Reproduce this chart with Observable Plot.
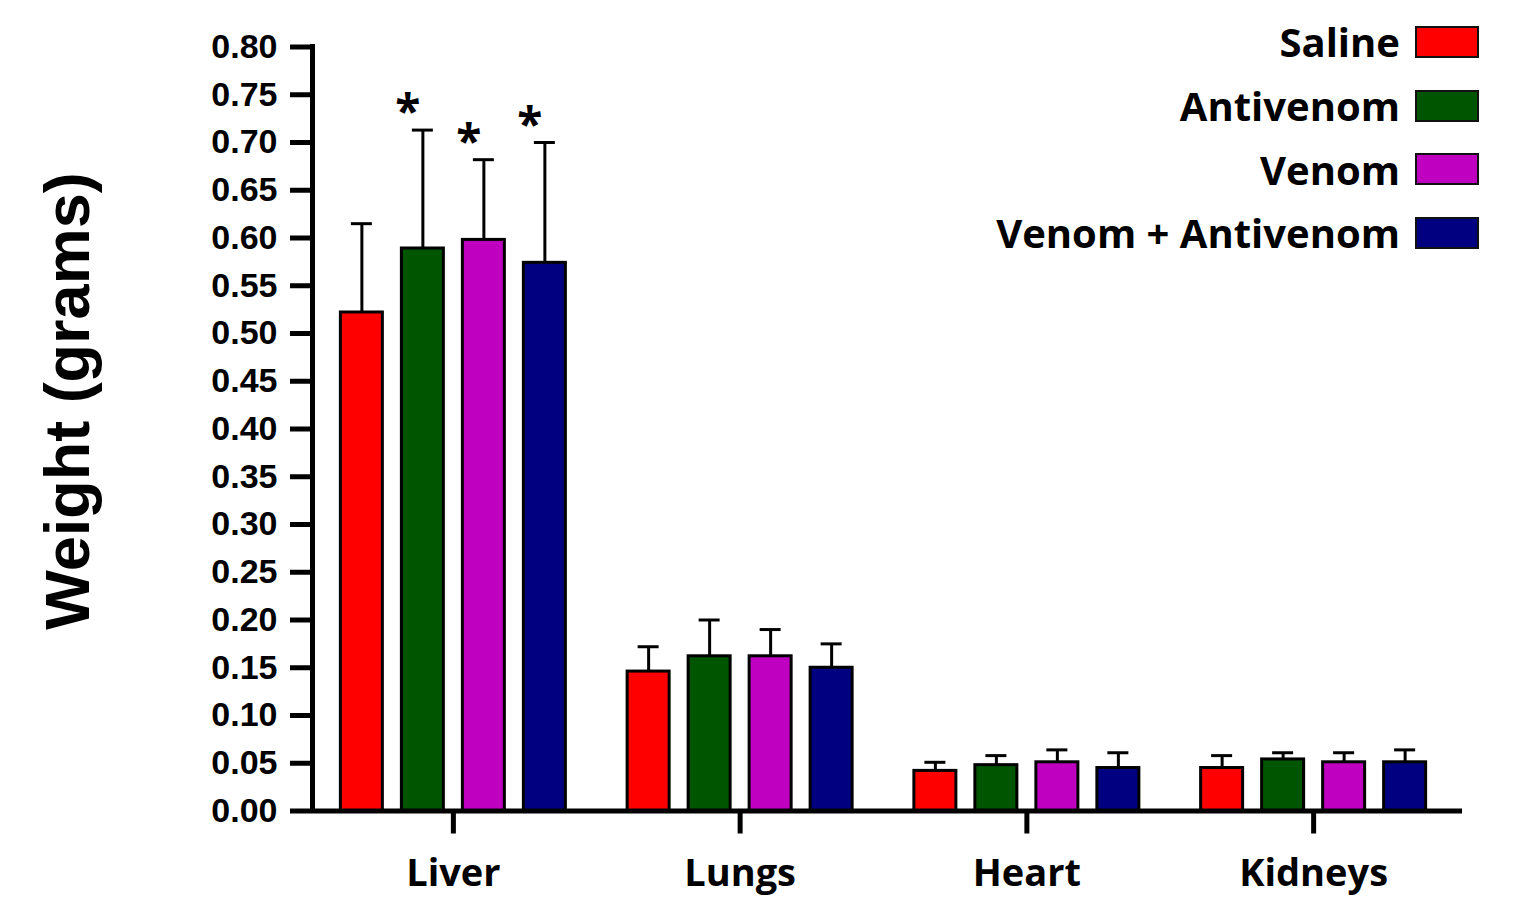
<!DOCTYPE html>
<html>
<head>
<meta charset="utf-8">
<script src="https://cdn.jsdelivr.net/npm/d3@7"></script>
<script src="https://cdn.jsdelivr.net/npm/@observablehq/plot@0.6"></script>
<style>
  body { margin: 0; background: #fff; }
  #wrap { position: relative; width: 1519px; height: 897px; overflow: hidden; background: #fff; }
  #legend { position: absolute; top: 10px; right: 40px; font-family: "Open Sans", sans-serif; font-weight: 700; font-size: 40px; color: #000; }
  .row { display: flex; align-items: center; justify-content: flex-end; height: 63.7px; }
  .sw { width: 60px; height: 28px; border: 2px solid #111; margin-left: 15px; box-sizing: content-box; }
</style>
</head>
<body>
<div id="wrap"><div id="legend"></div></div>
<script>
// ---- data ----
const organs = ["Liver", "Lungs", "Heart", "Kidneys"];
const groups = ["Saline", "Antivenom", "Venom", "Venom + Antivenom"];
const colors = ["#ff0000", "#005500", "#c000c0", "#000080"];

const salineMean    = [0.522, 0.146, 0.042, 0.045];
const salineErr     = [0.093, 0.026, 0.009, 0.013];
const antivenomMean = [0.589, 0.162, 0.048, 0.054];
const antivenomErr  = [0.124, 0.038, 0.010, 0.007];
const venomMean     = [0.598, 0.162, 0.051, 0.051];
const venomErr      = [0.084, 0.028, 0.013, 0.010];
const vaMean        = [0.574, 0.150, 0.045, 0.051];
const vaErr         = [0.126, 0.025, 0.016, 0.013];

// significance markers (organ, group)
const sigOrgan = ["Liver", "Liver", "Liver"];
const sigGroup = ["Antivenom", "Venom", "Venom + Antivenom"];

const yTicks = [0, 0.05, 0.10, 0.15, 0.20, 0.25, 0.30, 0.35, 0.40, 0.45, 0.50, 0.55, 0.60, 0.65, 0.70, 0.75, 0.80];
const yTitle = "Weight (grams)";

const means = [salineMean, antivenomMean, venomMean, vaMean];
const errs = [salineErr, antivenomErr, venomErr, vaErr];

const data = [];
groups.forEach((g, j) => organs.forEach((o, i) => {
  data.push({organ: o, group: g, mean: means[j][i], err: errs[j][i],
             sig: sigOrgan.some((so, k) => so === o && sigGroup[k] === g)});
}));

// ---- layout (styling only) ----
const W = 1519, H = 897;
const mL = 312, mR = 57, mT = 46.5, mB = 86.5;
const xRange = [309.5, 1456.5];
const band = (xRange[1] - xRange[0]) / organs.length;
const barW = 42, capW = 21, gap = 61;

const marks = [];
groups.forEach((g, j) => {
  const rows = data.filter(d => d.group === g);
  const dx = (j - 1.5) * gap;
  marks.push(Plot.ruleX(rows, {x: "organ", y1: "mean", y2: d => d.mean + d.err, dx, stroke: "#000", strokeWidth: 3}));
  marks.push(Plot.tickY(rows, {x: "organ", y: d => d.mean + d.err, dx, stroke: "#000", strokeWidth: 3,
    insetLeft: (band - capW) / 2, insetRight: (band - capW) / 2}));
  marks.push(Plot.barY(rows, {x: "organ", y: "mean", fill: colors[j], stroke: "#000", strokeWidth: 3,
    insetLeft: (band - barW) / 2, insetRight: (band - barW) / 2, dx}));
  marks.push(Plot.text(rows.filter(d => d.sig), {x: "organ", y: d => d.mean + d.err, text: () => "*",
    dx: dx - 15, dy: -2, lineAnchor: "bottom", fontSize: 46, fontWeight: "bold", fontFamily: "Open Sans", fill: "#000"}));
});

const chart = Plot.plot({
  width: W, height: H,
  marginLeft: mL, marginRight: mR, marginTop: mT, marginBottom: mB,
  style: {background: "white", color: "black", overflow: "visible"},
  x: {domain: organs, range: xRange, padding: 0, round: false, axis: null},
  y: {domain: [0, 0.8], axis: null},
  marks: [
    ...marks,
    Plot.ruleY([0], {stroke: "#000", strokeWidth: 5}),
    // y axis line at the left edge of the frame
    Plot.ruleX([organs[0]], {x: d => d, y1: 0, y2: 0.8, dx: mL - (xRange[0] + band / 2),
      stroke: "#000", strokeWidth: 5, strokeLinecap: "square"}),
    Plot.axisY({ticks: yTicks, tickFormat: d3.format(".2f"), tickSize: 22, tickPadding: 13, strokeWidth: 5,
      fontSize: 34, fontWeight: "bold", fontFamily: "Liberation Sans", label: null}),
    Plot.axisX({tickSize: 23, tickPadding: 25, strokeWidth: 5, fontSize: 38, fontWeight: "bold",
      fontFamily: "Open Sans", label: null}),
    Plot.text([yTitle], {frameAnchor: "left", textAnchor: "middle", rotate: -90, dx: -244, dy: -28,
      fontSize: 63, fontWeight: "bold", fontFamily: "Liberation Sans", fill: "#000"})
  ]
});

const wrap = document.getElementById("wrap");
wrap.insertBefore(chart, wrap.firstChild);

const legend = document.getElementById("legend");
groups.forEach((g, j) => {
  const row = document.createElement("div");
  row.className = "row";
  const t = document.createElement("span");
  t.textContent = g;
  const sw = document.createElement("div");
  sw.className = "sw";
  sw.style.background = colors[j];
  row.appendChild(t);
  row.appendChild(sw);
  legend.appendChild(row);
});
</script>
</body>
</html>
